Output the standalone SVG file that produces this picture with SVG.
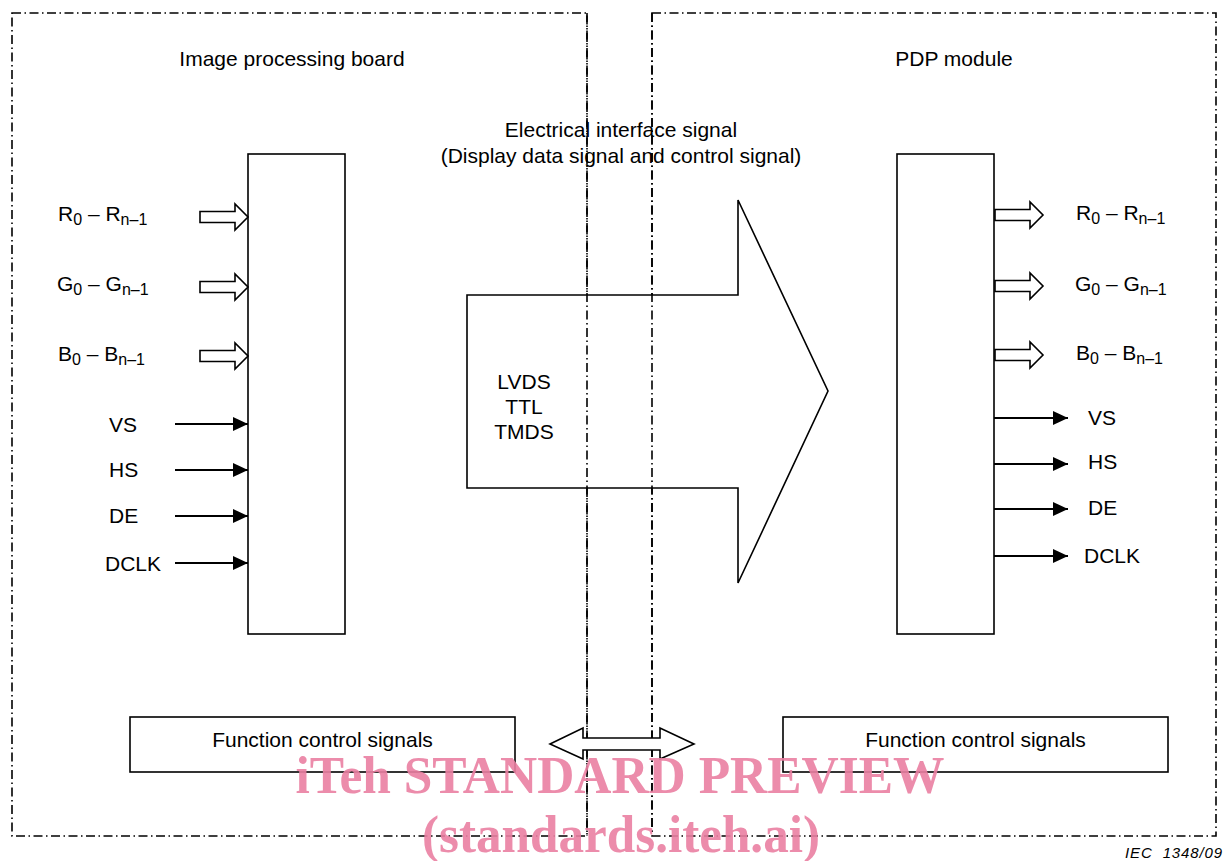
<svg xmlns="http://www.w3.org/2000/svg" width="1224" height="861" viewBox="0 0 1224 861">
<style>
.t{font-family:"Liberation Sans",Arial,sans-serif;font-size:21px;fill:#000}
.s{font-size:16px}
.bd{fill:none;stroke:#000;stroke-width:1.6;stroke-dasharray:9 3.5 1.5 3.5}
.box{fill:#fff;stroke:#000;stroke-width:1.6}
.ho{fill:#fff;stroke:#000;stroke-width:1.6;stroke-linejoin:miter}
.ln{fill:none;stroke:#000;stroke-width:2;marker-end:url(#ah)}
.wm{font-family:"Liberation Serif","Times New Roman",serif;font-weight:bold;fill:#ea7fa2;fill-opacity:0.9}
</style>
<defs>
<marker id="ah" markerWidth="16" markerHeight="14" refX="15" refY="7" orient="auto" markerUnits="userSpaceOnUse">
<path d="M0,0 L15,7 L0,14 Z" fill="#000"/>
</marker>
<path id="hollow" d="M0,-5.5 L35,-5.5 L35,-13 L48,0 L35,13 L35,5.5 L0,5.5 Z"/>
</defs>
<rect width="1224" height="861" fill="#fff"/>

<g id="board-image-processing">
<rect class="bd" x="12" y="13" width="575" height="823"/>
<text class="t" x="292" y="66" text-anchor="middle">Image processing board</text>
<rect class="box" x="248" y="154" width="97" height="480"/>
</g>

<g id="board-pdp">
<rect class="bd" x="652" y="13" width="564" height="823"/>
<text class="t" x="954" y="66" text-anchor="middle">PDP module</text>
<rect class="box" x="897" y="154" width="97" height="480"/>
</g>

<g id="interface">
<polygon class="box" points="467,295 738,295 738,200 828,391 738,583 738,488 467,488"/>
<text class="t" x="524" y="389" text-anchor="middle">LVDS</text>
<text class="t" x="524" y="414" text-anchor="middle">TTL</text>
<text class="t" x="524" y="439" text-anchor="middle">TMDS</text>
<text class="t" x="621" y="137" text-anchor="middle">Electrical interface signal</text>
<text class="t" x="621" y="163" text-anchor="middle">(Display data signal and control signal)</text>
</g>

<g id="func-left">
<rect class="box" x="130" y="717" width="385" height="55"/>
<text class="t" x="322.5" y="747" text-anchor="middle">Function control signals</text>
</g>
<g id="func-right">
<rect class="box" x="783" y="717" width="385" height="55"/>
<text class="t" x="975.5" y="747" text-anchor="middle">Function control signals</text>
</g>

<g id="redraw-borders">
<line class="bd" x1="587" y1="13" x2="587" y2="836"/>
<line class="bd" x1="652" y1="13" x2="652" y2="836"/>
</g>

<g id="connectors">
<use href="#hollow" class="ho" x="200" y="217"/>
<use href="#hollow" class="ho" x="200" y="287"/>
<use href="#hollow" class="ho" x="200" y="356"/>
<use href="#hollow" class="ho" x="995" y="215"/>
<use href="#hollow" class="ho" x="995" y="286"/>
<use href="#hollow" class="ho" x="995" y="355"/>
<line class="ln" x1="175" y1="424" x2="248" y2="424"/>
<line class="ln" x1="175" y1="470" x2="248" y2="470"/>
<line class="ln" x1="175" y1="516" x2="248" y2="516"/>
<line class="ln" x1="175" y1="563" x2="248" y2="563"/>
<line class="ln" x1="994" y1="418" x2="1068" y2="418"/>
<line class="ln" x1="994" y1="464" x2="1068" y2="464"/>
<line class="ln" x1="994" y1="509" x2="1068" y2="509"/>
<line class="ln" x1="994" y1="556" x2="1068" y2="556"/>
<polygon class="ho" points="550,744 583,728 583,738 660,738 660,728 694,744 660,759 660,750 583,750 583,759"/>
</g>

<g id="labels-left">
<text class="t" x="58" y="221">R<tspan class="s" dy="4">0</tspan><tspan dy="-4"> – R</tspan><tspan class="s" dy="4">n–1</tspan></text>
<text class="t" x="57" y="291">G<tspan class="s" dy="4">0</tspan><tspan dy="-4"> – G</tspan><tspan class="s" dy="4">n–1</tspan></text>
<text class="t" x="58" y="361">B<tspan class="s" dy="4">0</tspan><tspan dy="-4"> – B</tspan><tspan class="s" dy="4">n–1</tspan></text>
<text class="t" x="109" y="432">VS</text>
<text class="t" x="109" y="477">HS</text>
<text class="t" x="109" y="523">DE</text>
<text class="t" x="105" y="571">DCLK</text>
</g>

<g id="labels-right">
<text class="t" x="1076" y="220">R<tspan class="s" dy="4">0</tspan><tspan dy="-4"> – R</tspan><tspan class="s" dy="4">n–1</tspan></text>
<text class="t" x="1075" y="291">G<tspan class="s" dy="4">0</tspan><tspan dy="-4"> – G</tspan><tspan class="s" dy="4">n–1</tspan></text>
<text class="t" x="1076" y="360">B<tspan class="s" dy="4">0</tspan><tspan dy="-4"> – B</tspan><tspan class="s" dy="4">n–1</tspan></text>
<text class="t" x="1088" y="425">VS</text>
<text class="t" x="1088" y="469">HS</text>
<text class="t" x="1088" y="515">DE</text>
<text class="t" x="1084" y="563">DCLK</text>
</g>

<text x="1125" y="858" font-family="Liberation Sans,Arial,sans-serif" font-style="italic" font-size="15" textLength="97" lengthAdjust="spacing" xml:space="preserve">IEC  1348/09</text>

<g id="watermark">
<text class="wm" x="620" y="793" font-size="52" text-anchor="middle" textLength="649" lengthAdjust="spacingAndGlyphs">iTeh STANDARD PREVIEW</text>
<text class="wm" x="621" y="852" font-size="52" text-anchor="middle" textLength="398" lengthAdjust="spacingAndGlyphs">(standards.iteh.ai)</text>
</g>
</svg>
